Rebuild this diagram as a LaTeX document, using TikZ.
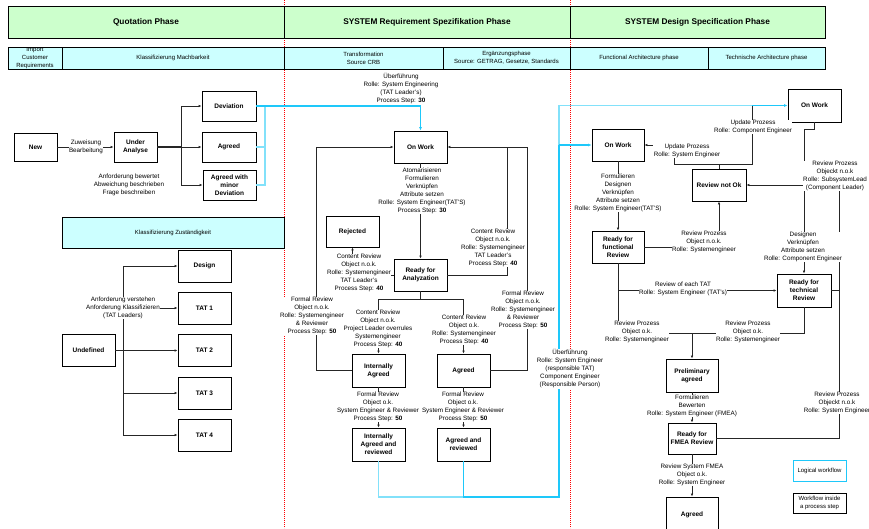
\documentclass[tikz,border=0pt]{standalone}
\usepackage{fontspec}
\setmainfont{Liberation Sans}
\usetikzlibrary{arrows.meta}
\definecolor{hgreen}{RGB}{204,255,204}
\definecolor{hcyan}{RGB}{204,255,255}
\definecolor{lcyan}{RGB}{30,200,250}
\definecolor{lcyanb}{RGB}{130,225,250}
\begin{document}
\begin{tikzpicture}[x=1pt,y=-1pt,
  box/.style={draw,line width=0.9pt,fill=white,align=center,inner sep=1pt,
    font=\fontsize{6.5}{8}\selectfont\bfseries,minimum width=53pt,minimum height=32pt},
  hdr/.style={draw,line width=0.9pt,fill=hgreen,align=center,inner sep=0pt,
    font=\fontsize{8.3}{10}\selectfont\bfseries,minimum height=32pt},
  sub/.style={draw,line width=0.9pt,fill=hcyan,align=center,inner sep=0pt,
    font=\fontsize{6}{8}\selectfont,minimum height=22pt},
  lbl/.style={fill=white,align=center,inner sep=0.4pt,font=\fontsize{6.3}{8}\selectfont},
  conn/.style={draw=black!85,line width=0.7pt},
  arr/.style={conn,-{Latex[length=3pt,width=2.6pt]}},
  cy/.style={draw=lcyan,line width=1.2pt},
  cyb/.style={draw=lcyanb,line width=1.2pt},
  cyarr/.style={cy,-{Latex[length=3.5pt,width=3pt]}},
  redl/.style={draw=red,line width=0.7pt,dash pattern=on 1.2pt off 0.8pt}
]
\useasboundingbox (0,0) rectangle (869,528);
\fill[white] (0,0) rectangle (869,528);
\clip (0,0) rectangle (869,528);

% phase separators
\draw[redl] (284,0) -- (284,528);
\draw[redl] (570,0) -- (570,528);

% header row
\node[hdr,minimum width=276pt] (qp) at (146,22) {Quotation Phase};
\node[hdr,minimum width=286pt] (srp) at (427,22) {SYSTEM Requirement Spezifikation Phase};
\node[hdr,minimum width=255pt] (sdp) at (697.5,22) {SYSTEM Design Specification Phase};

% sub row
\begin{scope}
\clip (8,47) rectangle (62,69);
\node[sub,minimum width=54pt] (icr) at (35,58) {Import\\Customer\\Requirements};
\end{scope}
\draw[line width=0.9pt] (8,47) rectangle (62,69);
\node[sub,minimum width=222pt] (km) at (173,58) {Klassifizierung Machbarkeit};
\node[sub,minimum width=159pt] (tr) at (363.5,58) {Transformation\\Source CRB};
\node[sub,minimum width=127pt] (eg) at (506.5,58) {Ergänzungsphase\\Source: GETRAG, Gesetze, Standards};
\node[sub,minimum width=138pt] (fa) at (639,58) {Functional Architecture phase};
\node[sub,minimum width=117pt] (ta) at (766.5,58) {Technische Architecture phase};

\node[sub,minimum width=222pt,minimum height=31pt] (kz) at (173,232.5) {Klassifizierung Zuständigkeit};

% left boxes
\node[box,minimum width=43pt,minimum height=28pt] (new) at (35.5,147) {New};
\node[box,minimum width=43pt,minimum height=30pt] (under) at (135.5,147) {Under\\Analyse};
\node[box,minimum width=54pt,minimum height=30pt] (dev) at (229,106) {Deviation};
\node[box,minimum width=54pt,minimum height=30pt] (agr1) at (229,147) {Agreed};
\node[box,minimum width=53pt,minimum height=30pt] (agrmin) at (229.5,185) {Agreed with\\minor\\Deviation};
\node[box] (design) at (204.5,266) {Design};
\node[box] (tat1) at (204.5,308) {TAT 1};
\node[box] (tat2) at (204.5,350.5) {TAT 2};
\node[box] (tat3) at (204.5,393) {TAT 3};
\node[box] (tat4) at (204.5,435) {TAT 4};
\node[box] (undef) at (88.5,350.5) {Undefined};

% middle boxes
\node[box] (onwork1) at (420.5,147) {On Work};
\node[box,minimum height=31pt] (rejected) at (352.5,231.5) {Rejected};
\node[box] (ready) at (420.5,275) {Ready for\\Analyzation};
\node[box,minimum height=33pt] (intag) at (378.5,370.5) {Internally\\Agreed};
\node[box,minimum height=33pt] (agr2) at (463.5,370.5) {Agreed};
\node[box,minimum height=33pt] (intagrev) at (378.5,444.5) {Internally\\Agreed and\\reviewed};
\node[box,minimum height=33pt] (agrrev) at (463.5,444.5) {Agreed and\\reviewed};

% right boxes
\node[box,minimum height=33pt] (onwork3) at (814.5,105.5) {On Work};
\node[box,minimum width=52pt] (onwork2) at (618,145) {On Work};
\node[box,minimum width=54pt] (rnok) at (719,185) {Review not Ok};
\node[box,minimum width=52pt] (rfr) at (618,247) {Ready for\\functional\\Review};
\node[box,minimum width=54pt,minimum height=33pt] (rtr) at (804,290.5) {Ready for\\technical\\Review};
\node[box,minimum width=52pt,minimum height=33pt] (prelim) at (692,375.5) {Preliminary\\agreed};
\node[box,minimum width=48pt,minimum height=31pt] (fmea) at (692,438.5) {Ready for\\FMEA Review};
\node[box,minimum width=52pt,minimum height=35pt] (agr3) at (692,514.5) {Agreed};

% legend
\node[box,draw=lcyan,line width=1pt,minimum height=21pt,font=\fontsize{6}{7.5}\selectfont] (leg1) at (819.5,470.5) {Logical workflow};
\node[box,minimum height=20pt,font=\fontsize{6}{7.5}\selectfont] (leg2) at (819.5,503) {Workflow inside\\a process step};

% junction coordinates
\coordinate (aj) at (181,147);
\coordinate (cj) at (265,147);
\coordinate (tj) at (123,350.5);
\coordinate (lj) at (316,147);
\coordinate (mj) at (420.5,299);
\coordinate (rj1) at (507,147);
\coordinate (rj2) at (527,147);
\coordinate (bj) at (559,497);
\coordinate (bj2) at (559,145);
\coordinate (u1) at (719,164);
\coordinate (u2) at (674,164);
\coordinate (u3) at (752,164);
\coordinate (u4) at (752,105.5);
\coordinate (rj) at (839,185);
\coordinate (pj) at (692,333);
\coordinate (fj) at (618,290.5);

% left connectors
\draw[arr] (new) -- (under);
\draw[conn,line width=1.1pt] (under.east) -- (aj);
\draw[arr] (aj) |- (dev.west);
\draw[arr] (aj) -- (agr1.west);
\draw[arr] (aj) |- (agrmin.west);
\draw[conn] (undef.east) -- (tj);
\draw[arr] (tj) |- (design.west);
\draw[arr] (tj) |- (tat1.west);
\draw[arr] (tj) -- (tat2.west);
\draw[arr] (tj) |- (tat3.west);
\draw[arr] (tj) |- (tat4.west);

% cyan logical workflow
\draw[cyb] (agr1.east) -- (cj) |- (dev.east);
\draw[cyb] (agrmin.east) -| (cj);
\draw[cyarr] (dev.east) -| (onwork1.north);
\draw[cyb] (intagrev.south) |- (agrrev.south |- bj);
\draw[cy] (agrrev.south) |- (bj) -- (bj2);
\draw[cyb] (bj2) |- (u4);
\draw[cyarr] (u4) -- (onwork3.west);
\draw[cyarr] (bj2) -- (onwork2.west);

% middle connectors
\draw[arr] (intag.west) -| (lj) -- (onwork1.west);
\draw[arr] (onwork1.south) -- (ready.north);
\draw[arr] (ready.west) -| (rejected.south);
\draw[conn] (ready.south) -- (mj);
\draw[arr] (mj) -| (intag.north);
\draw[arr] (mj) -| (agr2.north);
\draw[arr] (ready.east) -| (rj1) -- (onwork1.east);
\draw[conn] (agr2.east) -| (rj2) -- (rj1);
\draw[arr] (intag.south) -- (intagrev.north);
\draw[arr] (agr2.south) -- (agrrev.north);

% right connectors
\draw[arr] (onwork2.south) -- (rfr.north);
\draw[arr] (rfr.east) -| (rnok.south);
\draw[conn] (rnok.north) -- (u1);
\draw[arr] (u3) -- (u2) |- (onwork2.east);
\draw[conn] (u1) -- (u3) -- (u4);
\draw[arr] (onwork3.south) -- ++(0,7) -| (rtr.north);
\draw[arr] (rtr.east) -| (rj) -- (rnok.east);
\draw[conn] (fmea.east) -| (rj);
\draw[arr] (rfr.south) |- (pj) -- (prelim.north);
\draw[arr] (fj) -- (rtr.west);
\draw[conn] (rtr.south) |- (pj);
\draw[arr] (prelim.south) -- (fmea.north);
\draw[arr] (fmea.south) -- (agr3.north);

% labels
\node[lbl] (l1) at (86,147) {Zuweisung\\Bearbeitung};
\node[lbl] (l2) at (129,185) {Anforderung bewertet\\Abweichung beschrieben\\Frage beschreiben};
\node[lbl] (l3) at (123,308) {Anforderung verstehen\\Anforderung Klassifizieren\\(TAT Leaders)};
\node[lbl] (l4) at (401,89) {Überführung\\Rolle: System Engineering\\(TAT Leader's)\\Process Step: \textbf{30}};
\node[lbl] (l5) at (422,191) {Atomarisieren\\Formulieren\\Verknüpfen\\Attribute setzen\\Rolle: System Engineer(TAT'S)\\Process Step: \textbf{30}};
\node[lbl] (l6) at (359,273) {Content Review\\Object n.o.k.\\Rolle: Systemengineer\\TAT Leader's\\Process Step: \textbf{40}};
\node[lbl] (l7) at (493,248) {Content Review\\Object n.o.k.\\Rolle: Systemengineer\\TAT Leader's\\Process Step: \textbf{40}};
\node[lbl] (l10) at (378,329) {Content Review\\Object n.o.k.\\Project Leader overrules\\Systemengineer\\Process Step: \textbf{40}};
\node[lbl] (l8) at (312,316) {Formal Review\\Object n.o.k.\\Rolle: Systemengineer\\\& Reviewer\\Process Step: \textbf{50}};
\node[lbl] (l11) at (464,330) {Content Review\\Object o.k.\\Rolle: Systemengineer\\Process Step: \textbf{40}};
\node[lbl] (l9) at (523,310) {Formal Review\\Object n.o.k.\\Rolle: Systemengineer\\\& Reviewer\\Process Step: \textbf{50}};
\node[lbl] (l12) at (378,407) {Formal Review\\Object o.k.\\System Engineer \& Reviewer\\Process Step: \textbf{50}};
\node[lbl] (l13) at (463,407) {Formal Review\\Object o.k.\\System Engineer \& Reviewer\\Process Step: \textbf{50}};
\node[lbl] (l14) at (570,369) {Überführung\\Rolle: System Engineer\\(responsible TAT)\\Component Engineer\\(Responsible Person)};
\node[lbl] (l15) at (618,193) {Formulieren\\Designen\\Verknüpfen\\Attribute setzen\\Rolle: System Engineer(TAT'S)};
\node[lbl] (l16) at (687,151) {Update Prozess\\Rolle: System Engineer};
\node[lbl] (l17) at (753,127) {Update Prozess\\Rolle: Component Engineer};
\node[lbl] (l18) at (704,242) {Review Prozess\\Object n.o.k.\\Rolle: Systemengineer};
\node[lbl] (l20) at (803,247) {Designen\\Verknüpfen\\Attribute setzen\\Rolle: Component Engineer};
\node[lbl] (l19) at (835,176) {Review Prozess\\Objeckt n.o.k\\Rolle: SubsystemLead\\(Component Leader)};
\node[lbl] (l21) at (683,289) {Review of each TAT\\Rolle: System Engineer (TAT's)};
\node[lbl] (l22) at (637,332) {Review Prozess\\Object o.k.\\Rolle: Systemengineer};
\node[lbl] (l23) at (748,332) {Review Prozess\\Object o.k.\\Rolle: Systemengineer};
\node[lbl] (l24) at (692,406) {Formulieren\\Bewerten\\Rolle: System Engineer (FMEA)};
\node[lbl] (l25) at (837,403) {Review Prozess\\Objeckt n.o.k\\Rolle: System Engineer};
\node[lbl] (l26) at (692,475) {Review System FMEA\\Object o.k.\\Rolle: System Engineer};
\end{tikzpicture}
\end{document}
